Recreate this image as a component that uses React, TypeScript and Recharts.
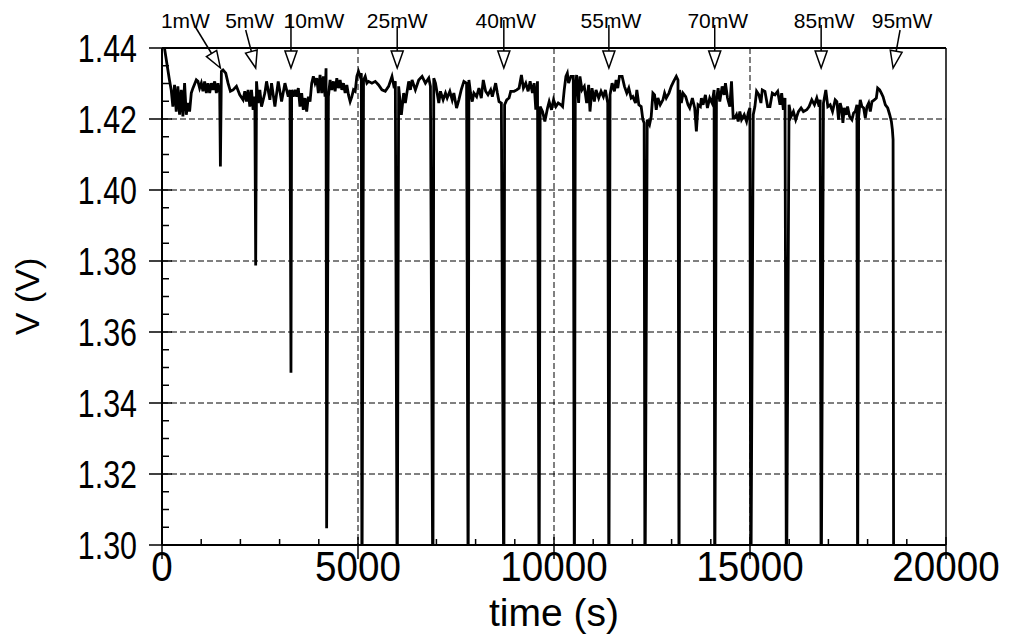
import React from 'react';
import { LineChart, Line, XAxis, YAxis, CartesianGrid, ReferenceLine, ReferenceDot, Label } from 'recharts';

// cell voltage (time in s, volts)
const traceTime = [
  60, 190, 235, 277, 320, 363, 405, 448, 491, 533, 576, 619, 661, 704, 747, 789, 875, 917, 960,
  1003, 1045, 1088, 1131, 1173, 1216, 1259, 1301, 1344, 1387, 1429, 1472, 1515, 1557, 1626, 1685, 1745, 1813, 1899, 1984,
  2069, 2112, 2155, 2197, 2240, 2283, 2325, 2368, 2411, 2453, 2496, 2539, 2624, 2667, 2752, 2795, 2880, 2965,
  3051, 3136, 3221, 3265, 3307, 3350, 3392, 3435, 3477, 3520, 3563, 3605, 3648, 3691, 3733, 3776, 3819, 3861, 3904, 3947, 3989,
  4032, 4075, 4117, 4160, 4185, 4245, 4288, 4331, 4373, 4416, 4459, 4501, 4544, 4587, 4629, 4672, 4715, 4757, 4800, 4843, 4885, 4928, 4971,
  5013, 5056, 5085, 5141, 5184, 5227, 5269, 5355, 5440, 5525, 5611, 5696, 5781, 5867, 5909, 5952,
  6037, 6106, 6165, 6208, 6293, 6336, 6379, 6464, 6549, 6635, 6720, 6805, 6848, 6933, 6976,
  7019, 7061, 7104, 7172, 7232, 7275, 7343, 7403, 7445, 7514, 7573, 7633, 7701, 7770, 7829, 7872, 7915, 7957,
  8026, 8085, 8145, 8196, 8256, 8316, 8384, 8427, 8512, 8555, 8597, 8657, 8740, 8794, 8853, 8896, 8981,
  9050, 9109, 9169, 9220, 9280, 9340, 9391, 9450, 9493, 9536, 9579, 9647, 9707, 9766, 9835, 9877, 9937, 9988,
  10048, 10108, 10176, 10219, 10261, 10304, 10340, 10372, 10432, 10492, 10543, 10577, 10628, 10662, 10714, 10773, 10833, 10884, 10918, 10970,
  11029, 11072, 11140, 11200, 11260, 11311, 11371, 11430, 11482, 11541, 11584, 11627, 11669, 11738, 11797, 11857, 11908, 11968,
  12011, 12079, 12113, 12164, 12224, 12267, 12300, 12378, 12437, 12480, 12523, 12565, 12608, 12651, 12710, 12779, 12821, 12864, 12932, 12992,
  13052, 13120, 13163, 13205, 13248, 13291, 13359, 13419, 13461, 13530, 13589, 13632, 13675, 13734, 13760, 13803, 13862, 13914, 13973,
  14033, 14084, 14144, 14187, 14229, 14289, 14340, 14374, 14426, 14485, 14528, 14571, 14613, 14656, 14699, 14741, 14784, 14852, 14912, 14955, 14997,
  15083, 15125, 15168, 15228, 15279, 15313, 15381, 15450, 15509, 15569, 15637, 15706, 15765, 15808, 15851, 15893, 15996,
  16047, 16107, 16166, 16235, 16303, 16363, 16448, 16508, 16576, 16644, 16704, 16764, 16790, 16874, 16934, 16985,
  17045, 17105, 17173, 17216, 17259, 17301, 17344, 17370, 17404, 17455, 17489, 17540, 17600, 17643, 17685, 17728, 17771, 17813, 17856, 17899, 17941, 17984,
  18027, 18069, 18112, 18172, 18223, 18257, 18308, 18351, 18394, 18453, 18513, 18564, 18607, 18632, 18650, 18665,
];
const traceVolt = [
  1.4402, 1.4310, 1.4282, 1.4235, 1.4296, 1.4221, 1.4292, 1.4212, 1.4282, 1.4207, 1.4301, 1.4212, 1.4245, 1.4221, 1.4273, 1.4287, 1.4310, 1.4306, 1.4287,
  1.4301, 1.4278, 1.4306, 1.4273, 1.4301, 1.4273, 1.4301, 1.4282, 1.4306, 1.4273, 1.4301, 1.4273, 1.4334, 1.4338, 1.4329, 1.4301, 1.4278, 1.4282, 1.4292, 1.4268,
  1.4254, 1.4278, 1.4249, 1.4282, 1.4235, 1.4282, 1.4226, 1.4263, 1.4306, 1.4245, 1.4282, 1.4235, 1.4273, 1.4306, 1.4254, 1.4301, 1.4235, 1.4306,
  1.4249, 1.4301, 1.4263, 1.4282, 1.4282, 1.4263, 1.4282, 1.4263, 1.4287, 1.4235, 1.4273, 1.4226, 1.4259, 1.4221, 1.4263, 1.4249, 1.4301, 1.4320, 1.4301, 1.4315, 1.4273,
  1.4324, 1.4273, 1.4320, 1.4263, 1.4343, 1.4263, 1.4310, 1.4282, 1.4306, 1.4278, 1.4315, 1.4287, 1.4310, 1.4282, 1.4301, 1.4273, 1.4296, 1.4268, 1.4249, 1.4263, 1.4282, 1.4278, 1.4320,
  1.4334, 1.4320, 1.4329, 1.4310, 1.4320, 1.4301, 1.4306, 1.4301, 1.4306, 1.4296, 1.4282, 1.4278, 1.4292, 1.4320, 1.4296, 1.4306,
  1.4292, 1.4212, 1.4273, 1.4245, 1.4306, 1.4282, 1.4310, 1.4282, 1.4310, 1.4320, 1.4301, 1.4315, 1.4292, 1.4315, 1.4301,
  1.4273, 1.4245, 1.4278, 1.4254, 1.4273, 1.4259, 1.4278, 1.4254, 1.4273, 1.4231, 1.4254, 1.4282, 1.4306, 1.4301, 1.4310, 1.4273, 1.4249, 1.4273,
  1.4263, 1.4287, 1.4259, 1.4310, 1.4278, 1.4268, 1.4282, 1.4263, 1.4301, 1.4273, 1.4249, 1.4245, 1.4240, 1.4254, 1.4259, 1.4278, 1.4278,
  1.4282, 1.4287, 1.4324, 1.4287, 1.4301, 1.4278, 1.4306, 1.4273, 1.4301, 1.4226, 1.4306, 1.4235, 1.4221, 1.4193, 1.4231, 1.4249, 1.4226, 1.4254,
  1.4235, 1.4245, 1.4240, 1.4235, 1.4282, 1.4320, 1.4329, 1.4301, 1.4320, 1.4320, 1.4282, 1.4324, 1.4245, 1.4320, 1.4282, 1.4292, 1.4245, 1.4296, 1.4221, 1.4287,
  1.4249, 1.4282, 1.4259, 1.4278, 1.4263, 1.4282, 1.4245, 1.4268, 1.4301, 1.4278, 1.4310, 1.4287, 1.4320, 1.4320, 1.4292, 1.4273, 1.4287, 1.4259,
  1.4263, 1.4245, 1.4282, 1.4240, 1.4235, 1.4198, 1.4189, 1.4198, 1.4184, 1.4207, 1.4273, 1.4268, 1.4226, 1.4259, 1.4240, 1.4254, 1.4273, 1.4259, 1.4273, 1.4292,
  1.4306, 1.4320, 1.4310, 1.4282, 1.4245, 1.4273, 1.4263, 1.4240, 1.4231, 1.4259, 1.4231, 1.4165, 1.4240, 1.4235, 1.4259, 1.4240, 1.4268, 1.4231, 1.4259,
  1.4245, 1.4282, 1.4254, 1.4287, 1.4249, 1.4292, 1.4268, 1.4301, 1.4259, 1.4235, 1.4306, 1.4203, 1.4203, 1.4212, 1.4193, 1.4221, 1.4198, 1.4212, 1.4193, 1.4217, 1.4231,
  1.4212, 1.4235, 1.4278, 1.4268, 1.4245, 1.4282, 1.4278, 1.4235, 1.4235, 1.4273, 1.4268, 1.4278, 1.4240, 1.4273, 1.4226, 1.4259, 1.4240,
  1.4207, 1.4221, 1.4198, 1.4221, 1.4231, 1.4221, 1.4226, 1.4235, 1.4254, 1.4240, 1.4259, 1.4235, 1.4254, 1.4245, 1.4282, 1.4235,
  1.4240, 1.4221, 1.4254, 1.4249, 1.4198, 1.4245, 1.4226, 1.4189, 1.4231, 1.4212, 1.4235, 1.4207, 1.4198, 1.4217, 1.4221, 1.4240, 1.4207, 1.4254, 1.4235, 1.4231, 1.4203, 1.4235,
  1.4245, 1.4221, 1.4249, 1.4254, 1.4259, 1.4287, 1.4282, 1.4273, 1.4263, 1.4240, 1.4231, 1.4212, 1.4193, 1.4170, 1.4142, 1.2800,
];

// load pulses: time of each pulse and the lowest voltage it reaches
const pulseTime = [1490, 2390, 3290, 4200, 5100, 6000, 6910, 7810, 8720, 9620, 10520, 11400, 12320, 13190, 14100, 15020, 15930, 16815, 17745];
const pulseLow = [1.4066, 1.3787, 1.3485, 1.3047, 1.28, 1.28, 1.28, 1.28, 1.28, 1.28, 1.28, 1.28, 1.28, 1.28, 1.28, 1.28, 1.28, 1.28, 1.28];

const xTicks = [0, 1000, 2000, 3000, 4000, 5000, 6000, 7000, 8000, 9000, 10000, 11000, 12000, 13000, 14000, 15000, 16000, 17000, 18000, 19000, 20000];
const xMajor = [0, 5000, 10000, 15000, 20000];
const yTicks = [
  1.3, 1.305, 1.31, 1.315, 1.32, 1.325, 1.33, 1.335, 1.34, 1.345, 1.35, 1.355, 1.36, 1.365, 1.37,
  1.375, 1.38, 1.385, 1.39, 1.395, 1.4, 1.405, 1.41, 1.415, 1.42, 1.425, 1.43, 1.435, 1.44,
];
const yMajor = [1.3, 1.32, 1.34, 1.36, 1.38, 1.4, 1.42, 1.44];
const gridX = [5000, 10000, 15000];
const gridY = [1.32, 1.34, 1.36, 1.38, 1.4, 1.42];

const arrowLabels = ['1mW', '5mW', '10mW', '25mW', '40mW', '55mW', '70mW', '85mW', '95mW'];
const arrowTime = [1490, 2390, 3290, 6000, 8720, 11400, 14100, 16815, 18650];
// pixel placement of each label / shaft start, relative to the arrow tip
const arrowLayout = [
  { tx: -35, sx: -25, sy: -41 },
  { tx: -6, sx: -10, sy: -38 },
  { tx: 23, sx: 0, sy: -54 },
  { tx: 0, sx: 0, sy: -42 },
  { tx: 2, sx: 0, sy: -48 },
  { tx: 2, sx: 0, sy: -43 },
  { tx: 3, sx: 0, sy: -43 },
  { tx: 3, sx: 0, sy: -43 },
  { tx: 9, sx: 7, sy: -38 },
];

const data = [
  ...traceTime.map((t, i) => ({ t, v: traceVolt[i] })),
  ...pulseTime.map((t, i) => ({ t, v: pulseLow[i] })),
].sort((a, b) => a.t - b.t);

const isMajorY = (v: number) => yMajor.some(m => Math.abs(m - v) < 1e-6);

const XTick = (props: any) => {
  const { x, y, payload } = props;
  const major = xMajor.includes(payload.value);
  return (
    <g>
      <line x1={x} x2={x} y1={y - (major ? 8 : 6)} y2={major ? y + 14 : y} stroke="#000" strokeWidth={1.5} />
      {major && (
        <text transform={`translate(${x},${y + 36}) scale(0.92,1)`} textAnchor="middle" fontSize={42} fill="#000">
          {payload.value}
        </text>
      )}
    </g>
  );
};

const YTick = (props: any) => {
  const { x, y, payload } = props;
  const major = isMajorY(payload.value);
  return (
    <g>
      <line x1={major ? x - 13 : x} x2={x + (major ? 10 : 7)} y1={y} y2={y} stroke="#000" strokeWidth={1.5} />
      {major && (
        <text transform={`translate(${x - 25},${y + 14}) scale(0.8,1)`} textAnchor="end" fontSize={38} fill="#000">
          {payload.value.toFixed(2)}
        </text>
      )}
    </g>
  );
};

const Arrow = ({ cx, cy, label, lay }: any) => {
  const tipX = cx;
  const tipY = cy + 20;
  const topX = tipX + lay.sx;
  const topY = tipY + lay.sy;
  const dx = tipX - topX;
  const dy = tipY - topY;
  const len = Math.sqrt(dx * dx + dy * dy);
  const ux = dx / len;
  const uy = dy / len;
  const bx = tipX - ux * 17;
  const by = tipY - uy * 17;
  const px = -uy * 6;
  const py = ux * 6;
  return (
    <g>
      <text x={tipX + lay.tx} y={tipY - 40} textAnchor="middle" fontSize={21} fill="#000">{label}</text>
      <line x1={topX} y1={topY} x2={bx} y2={by} stroke="#000" strokeWidth={1.5} />
      <polygon
        points={`${tipX},${tipY} ${bx + px},${by + py} ${bx - px},${by - py}`}
        fill="#fff"
        stroke="#000"
        strokeWidth={1.5}
      />
    </g>
  );
};

export default function App() {
  return (
    <div style={{ position: 'absolute', left: 0, top: 0, width: 1010, height: 637, background: '#fff', fontFamily: "'Liberation Sans', Arial, sans-serif" }}>
      <LineChart width={1010} height={637} data={data} margin={{ top: 48, right: 64, bottom: 0, left: 0 }}>
        <CartesianGrid
          horizontalValues={gridY}
          verticalValues={gridX}
          stroke="#000"
          strokeWidth={1}
          strokeDasharray="6 3"
        />
        <XAxis
          dataKey="t"
          type="number"
          domain={[0, 20000]}
          ticks={xTicks}
          interval={0}
          height={92}
          tickSize={0}
          tickMargin={0}
          tickLine={false}
          tick={<XTick />}
          axisLine={{ stroke: '#000', strokeWidth: 2 }}
        >
          <Label
            content={(p: any) => (
              <text x={p.viewBox.x + p.viewBox.width / 2} y={p.viewBox.y + 81} textAnchor="middle" fontSize={39} fill="#000">
                time (s)
              </text>
            )}
          />
        </XAxis>
        <YAxis
          type="number"
          domain={[1.3, 1.44]}
          allowDataOverflow
          ticks={yTicks}
          interval={0}
          width={162}
          tickSize={0}
          tickMargin={0}
          tickLine={false}
          tick={<YTick />}
          axisLine={{ stroke: '#000', strokeWidth: 2 }}
        >
          <Label
            content={(p: any) => {
              const cx = 27;
              const cy = p.viewBox.y + p.viewBox.height / 2;
              return (
                <text x={cx} y={cy} transform={`rotate(-90 ${cx} ${cy})`} textAnchor="middle" dominantBaseline="central" fontSize={34} fill="#000">
                  V (V)
                </text>
              );
            }}
          />
        </YAxis>
        <ReferenceLine y={1.44} stroke="#000" strokeWidth={2} />
        <ReferenceLine x={20000} stroke="#000" strokeWidth={1.5} />
        <Line
          type="linear"
          dataKey="v"
          stroke="#000"
          strokeWidth={2.8}
          dot={false}
          isAnimationActive={false}
        />
        {arrowTime.map((t, i) => (
          <ReferenceDot
            key={arrowLabels[i]}
            x={t}
            y={1.44}
            ifOverflow="visible"
            shape={(p: any) => <Arrow cx={p.cx} cy={p.cy} label={arrowLabels[i]} lay={arrowLayout[i]} />}
          />
        ))}
      </LineChart>
    </div>
  );
}
